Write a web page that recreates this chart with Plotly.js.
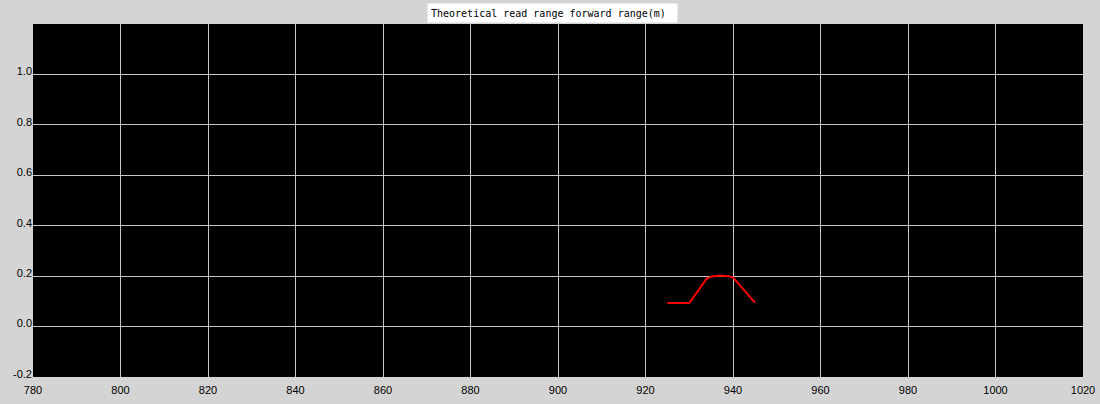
<!DOCTYPE html>
<html>
<head>
<meta charset="utf-8">
<script src="https://cdn.plot.ly/plotly-3.0.1.min.js"></script>
<style>html,body{margin:0;padding:0;background:#d4d4d4;}#chart{width:1100px;height:404px;}</style>
</head>
<body>
<div id="chart"></div>
<script>
const frequencies = [925, 930, 934, 935, 937, 939, 940, 945];
const readRange = [0.093, 0.093, 0.19, 0.198, 0.203, 0.2, 0.195, 0.095];
const xTicks = [780, 800, 820, 840, 860, 880, 900, 920, 940, 960, 980, 1000, 1020];
const yTicks = [-0.2, 0, 0.2, 0.4, 0.6, 0.8, 1.0];
const yTickLabels = ['-0.2', '0.0', '0.2', '0.4', '0.6', '0.8', '1.0'];
const chartTitle = 'Theoretical read range forward range(m)';

const trace = {
  x: frequencies, y: readRange, type: 'scatter', mode: 'lines',
  line: {color: '#ff0000', width: 2}, hoverinfo: 'skip'
};
const layout = {
  width: 1100, height: 404,
  margin: {l: 33, r: 17, t: 24, b: 27, pad: 0},
  paper_bgcolor: '#d4d4d4', plot_bgcolor: '#000000',
  showlegend: false,
  font: {family: 'Liberation Sans, Arial, sans-serif', size: 11, color: '#000'},
  xaxis: {
    range: [780, 1020], tickvals: xTicks, ticktext: xTicks.map(String),
    showgrid: true, gridcolor: '#c8c8c8', gridwidth: 1,
    zeroline: false, showline: false, ticks: '', ticklen: 0,
    ticklabelstandoff: 5,
    tickfont: {size: 11, color: '#000'}
  },
  yaxis: {
    range: [-0.2, 1.2], tickvals: yTicks, ticktext: yTickLabels,
    showgrid: true, gridcolor: '#c8c8c8', gridwidth: 1,
    zeroline: false, showline: false, ticks: '', ticklen: 0,
    ticklabelshift: -3,
    tickfont: {size: 11, color: '#000'}
  },
  annotations: [{
    text: chartTitle, xref: 'paper', yref: 'paper', x: 0.4948, y: 1, yanchor: 'bottom',
    yshift: 1, showarrow: false, bgcolor: '#ffffff', borderpad: 3,
    width: 243, height: 12, align: 'left',
    font: {family: 'DejaVu Sans Mono, monospace', size: 10, color: '#000'}
  }]
};
Plotly.newPlot('chart', [trace], layout, {staticPlot: true, displayModeBar: false});
</script>
</body>
</html>
